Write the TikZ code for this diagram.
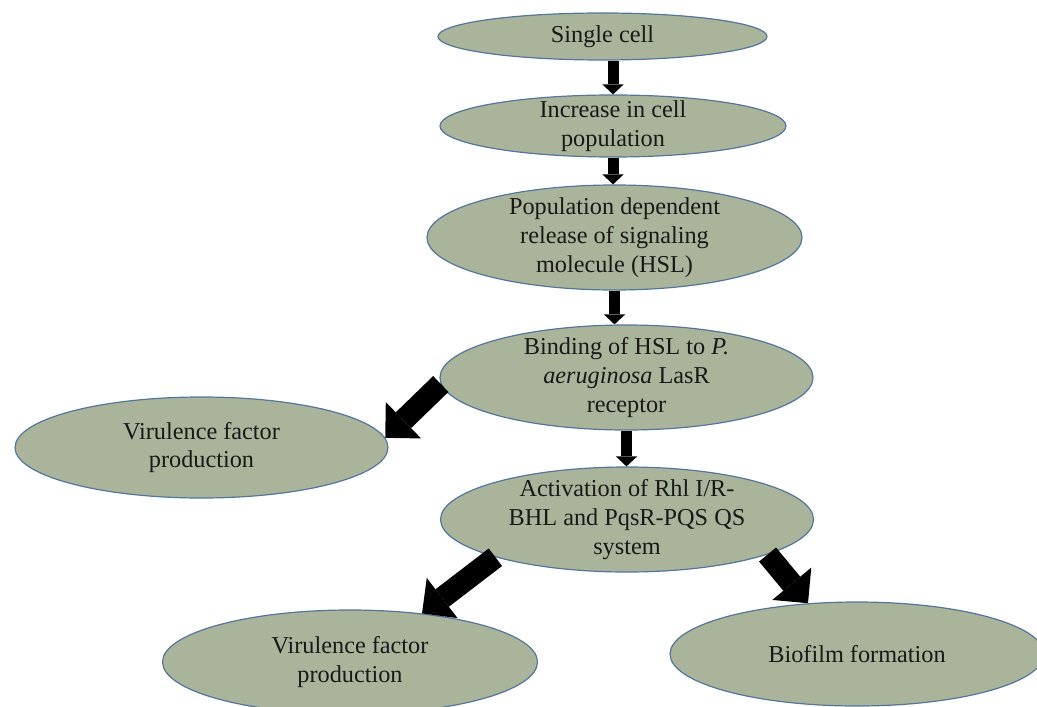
\documentclass[tikz,border=0pt]{standalone}
\usepackage{fontspec}
\setmainfont{Liberation Serif}
\usetikzlibrary{shapes.geometric,arrows.meta,calc}
\definecolor{ellfill}{RGB}{169,180,154}
\definecolor{elldraw}{RGB}{84,118,156}
\definecolor{txtcol}{RGB}{25,25,25}
\begin{document}
\begin{tikzpicture}[x=0.75pt,y=-0.75pt,
  ell/.style 2 args={ellipse, draw=elldraw, fill=ellfill, line width=0.9pt,
    minimum width=#1*0.75pt, minimum height=#2*0.75pt, inner sep=0pt},
  txt/.style={align=center, text=txtcol, font=\fontsize{18.2}{21.6}\selectfont, inner sep=0pt},
  smallarrow/.style={line width=8.25pt, -{Triangle[length=7.5pt,width=16pt,line width=0pt]}},
  bigarrow/.style={line width=16.5pt, -{Triangle[length=19pt,width=38pt,line width=0pt]}}]
\useasboundingbox (0,0) rectangle (1037,706);
\clip (0,0) rectangle (1037,706);

\node[ell={329}{47}]  (e1) at (602.5,36.5) {};
\node[ell={346}{62}]  (e2) at (613,126) {};
\node[ell={375}{105}] (e3) at (614.5,237.5) {};
\node[ell={373}{105}] (e4) at (626.5,377.5) {};
\node[ell={373}{101}] (e5) at (201.5,447.5) {};
\node[ell={373}{105}] (e6) at (627,519.5) {};
\node[ell={375}{104}] (e7) at (350,662) {};
\node[ell={374}{104}] (e8) at (857,654) {};

\node[txt] (t1) at (e1) {Single cell};
\node[txt] (t2) at (e2) {Increase in cell\\population};
\node[txt] (t3) at (e3) {Population dependent\\release of signaling\\molecule (HSL)};
\node[txt] (t4) at (e4) {Binding of HSL to \textit{P.}\\\textit{aeruginosa} LasR\\receptor};
\node[txt] (t5) at (e5) {Virulence factor\\production};
\node[txt] (t6) at (e6) {Activation of Rhl I/R-\\BHL and PqsR-PQS QS\\system};
\node[txt] (t7) at (e7) {Virulence factor\\production};
\node[txt] (t8) at (e8) {Biofilm formation};

\draw[smallarrow] (e1.south -| e2.north) -- (e2.north);
\draw[smallarrow] (e2.south) -- (e2.south |- e3.north);
\draw[smallarrow] (e3.south) -- (e3.south |- e4.north);
\draw[smallarrow] (e4.south) -- (e4.south |- e6.north);
\draw[bigarrow] (e4.182) -- (e5.3);
\draw[bigarrow] (e6.196) -- (e7.34);
\draw[bigarrow] (e6.-14) -- (e8.134);
\end{tikzpicture}
\end{document}
